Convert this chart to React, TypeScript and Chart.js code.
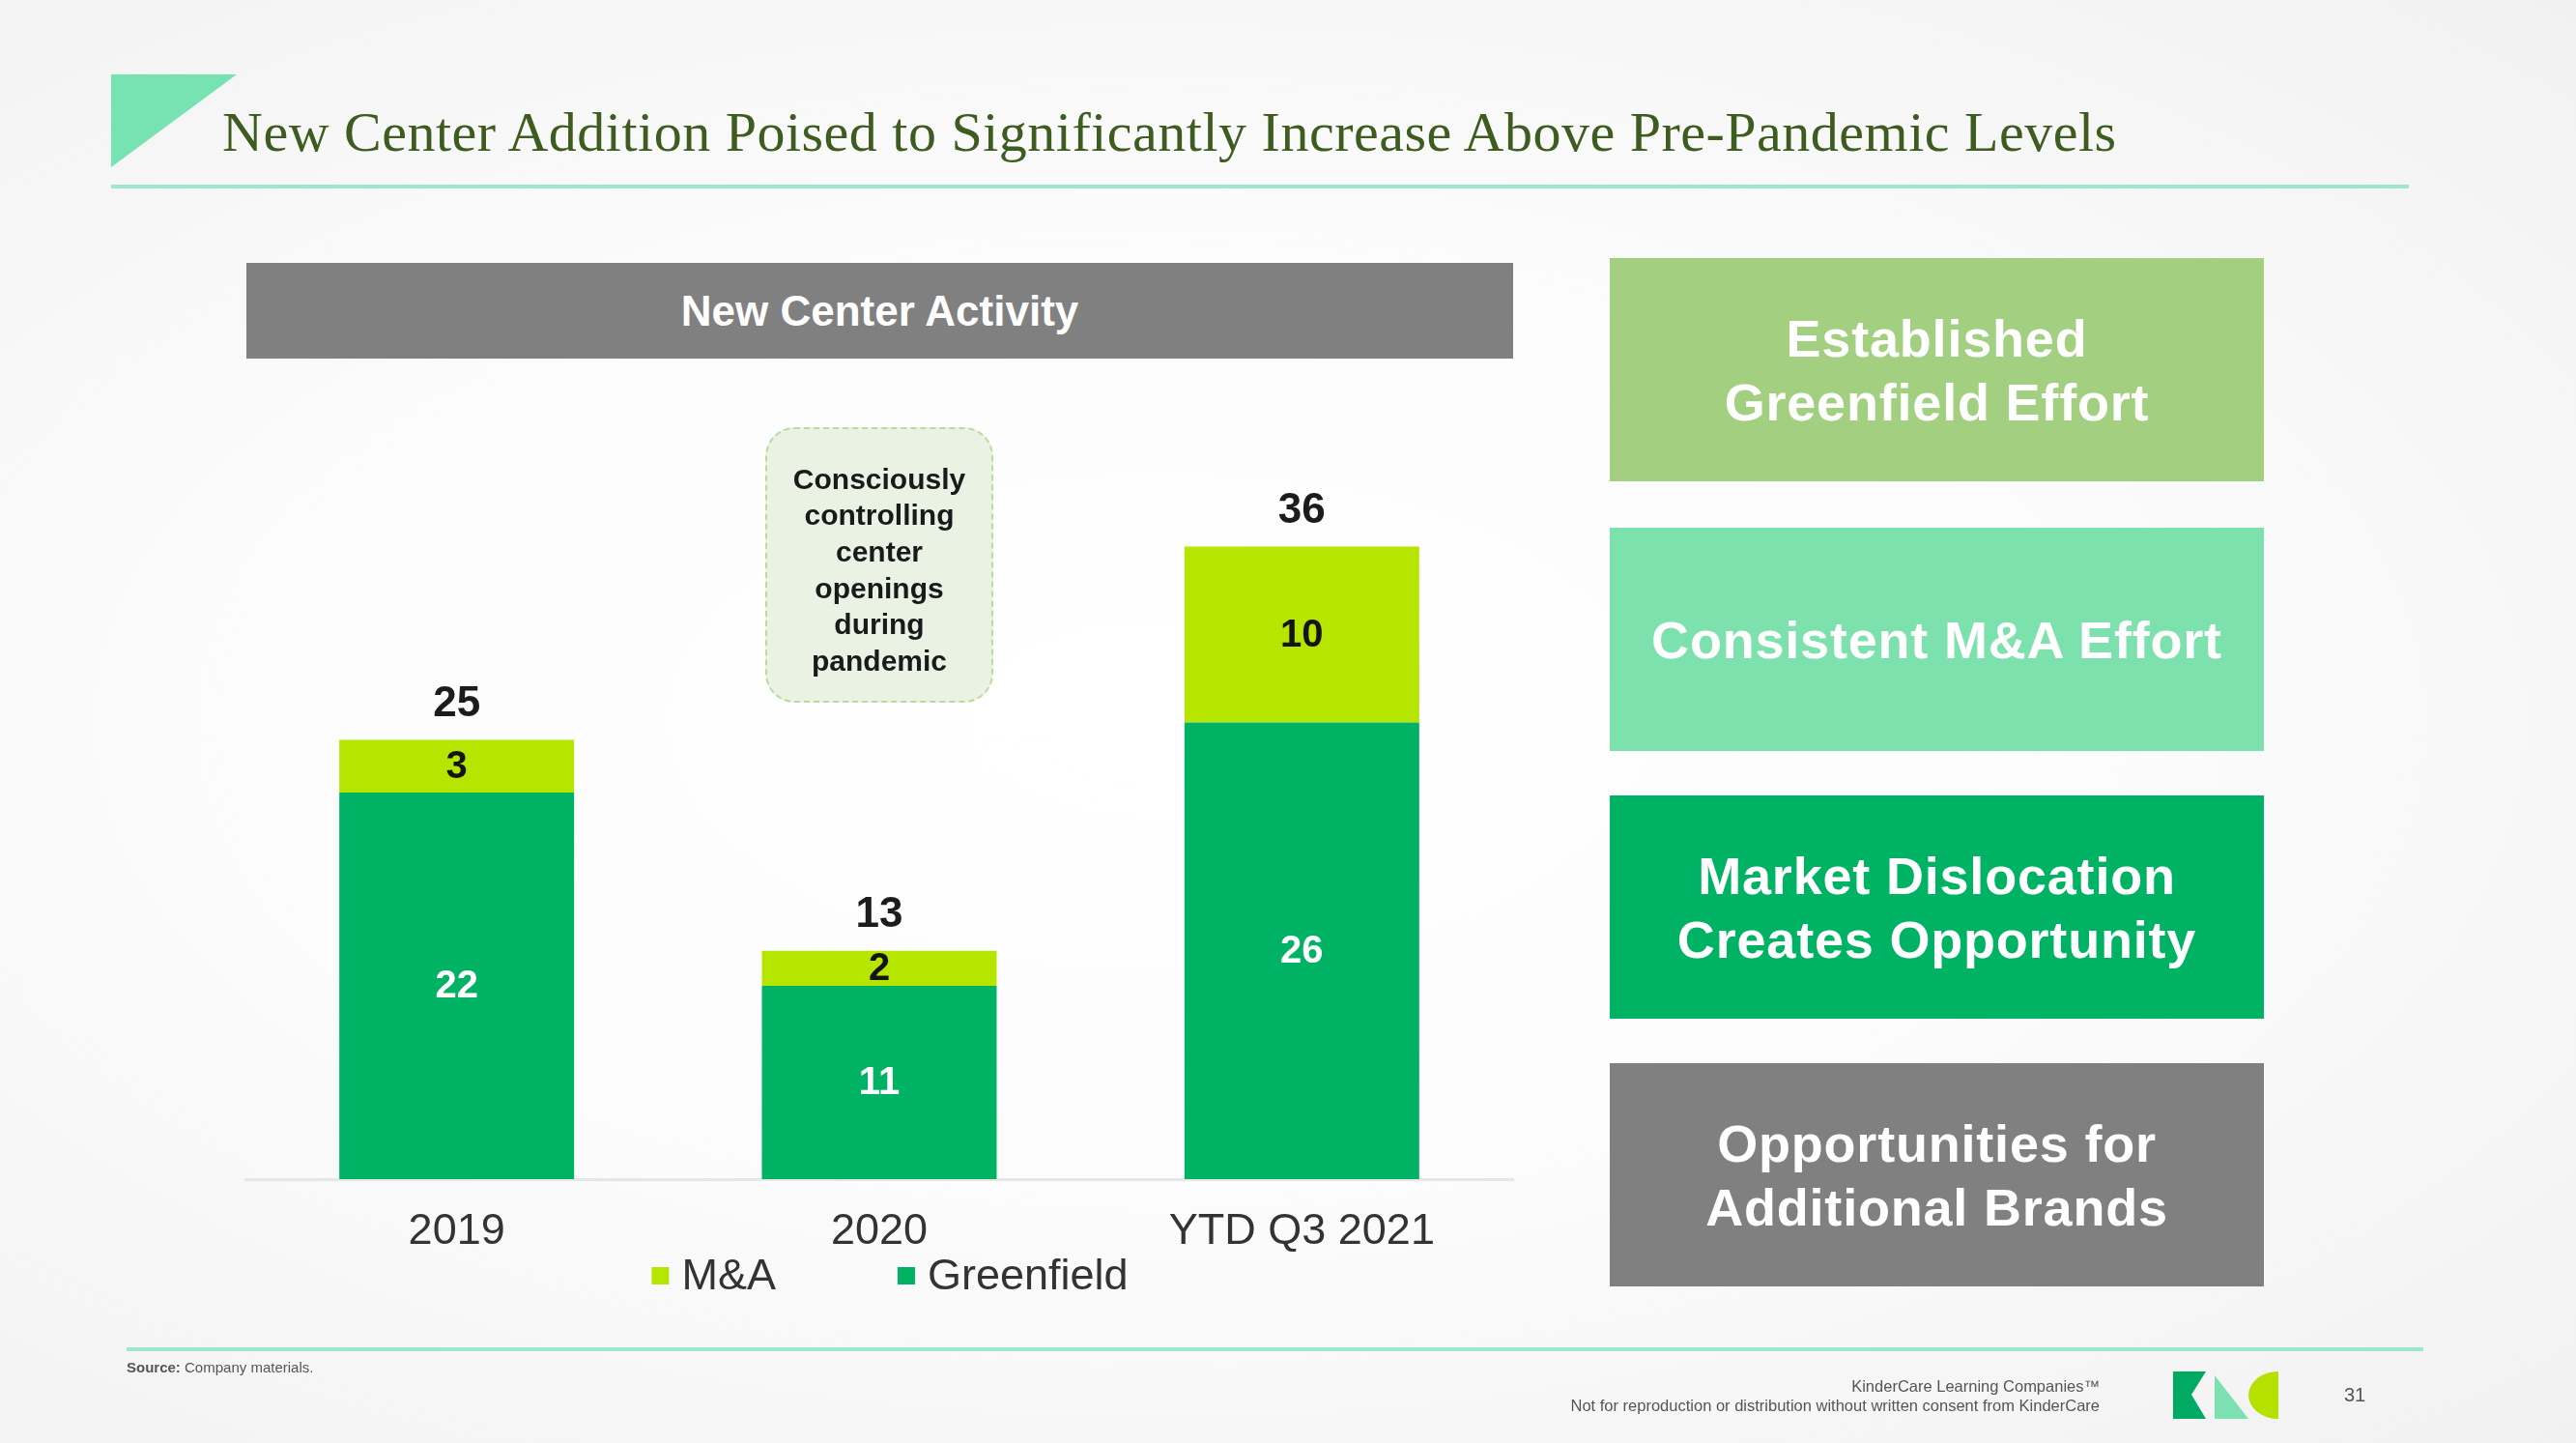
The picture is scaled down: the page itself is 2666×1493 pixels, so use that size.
import React, { useEffect, useRef } from 'react';
import { Chart, registerables } from 'chart.js';

Chart.register(...registerables);

// ---- data ----
const categories = ['2019', '2020', 'YTD Q3 2021'];
const greenfield = [22, 11, 26];
const mna = [3, 2, 10];
const legendOrder = ['M&A', 'Greenfield'];
const calloutLines = ['Consciously', 'controlling', 'center', 'openings', 'during', 'pandemic'];
const boxTexts = [
  ['Established', 'Greenfield Effort'],
  ['Consistent M&A Effort'],
  ['Market Dislocation', 'Creates Opportunity'],
  ['Opportunities for', 'Additional Brands'],
];

// ---- styles ----
const GREEN = '#00b264';
const LIME = '#b6e600';
const MINT = '#7de0b0';
const SANS = '"Liberation Sans", Arial, Helvetica, sans-serif';
const boxColors = ['#a2cf80', '#7de1ae', '#00b264', '#808080'];
const boxTops = [267, 546, 823, 1100];

const labelPlugin = {
  id: 'barLabels',
  afterDatasetsDraw(chart: any) {
    const ctx = chart.ctx;
    ctx.save();
    ctx.textAlign = 'center';
    ctx.textBaseline = 'middle';
    chart.data.datasets.forEach((ds: any, di: number) => {
      const meta = chart.getDatasetMeta(di);
      meta.data.forEach((bar: any, i: number) => {
        const p = bar.getProps(['x', 'y', 'base'], true);
        ctx.font = `bold 40px ${SANS}`;
        ctx.fillStyle = di === 0 ? '#ffffff' : '#141414';
        ctx.fillText(String(ds.data[i]), p.x, (p.y + p.base) / 2 + 1);
      });
    });
    const lastMeta = chart.getDatasetMeta(chart.data.datasets.length - 1);
    lastMeta.data.forEach((bar: any, i: number) => {
      const total = chart.data.datasets.reduce((s: number, ds: any) => s + ds.data[i], 0);
      const p = bar.getProps(['x', 'y'], true);
      ctx.font = `bold 44px ${SANS}`;
      ctx.fillStyle = '#1c1c1c';
      ctx.fillText(String(total), p.x, p.y - 37);
    });

    // legend (custom spacing)
    const area = chart.chartArea;
    const box = 18, gapText = 13, itemGap = 126;
    ctx.font = `45px ${SANS}`;
    const items = legendOrder.map((name) => {
      const ds = chart.data.datasets.find((d: any) => d.label === name);
      return { name, color: ds.backgroundColor, w: box + gapText + ctx.measureText(name).width };
    });
    const total = items.reduce((s, it) => s + it.w, 0) + itemGap * (items.length - 1);
    let x = (area.left + area.right) / 2 + 11 - total / 2;
    const yc = area.bottom + 102;
    items.forEach((it) => {
      ctx.fillStyle = it.color;
      ctx.fillRect(x, yc - box / 2 - 2, box, box);
      ctx.fillStyle = '#333333';
      ctx.textAlign = 'left';
      ctx.fillText(it.name, x + box + gapText, yc);
      x += it.w + itemGap;
    });
    ctx.restore();
  },
};

function BarChart() {
  const ref = useRef<HTMLCanvasElement>(null);
  useEffect(() => {
    const chart = new Chart(ref.current as HTMLCanvasElement, {
      type: 'bar',
      data: {
        labels: categories,
        datasets: [
          { label: 'Greenfield', data: greenfield, backgroundColor: GREEN, borderWidth: 0 },
          { label: 'M&A', data: mna, backgroundColor: LIME, borderWidth: 0 },
        ],
      },
      options: {
        responsive: false,
        animation: false,
        devicePixelRatio: 1,
        layout: { padding: { left: 54, right: 54, top: 22, bottom: 79 } },
        datasets: { bar: { categoryPercentage: 1, barPercentage: 0.5556 } },
        plugins: { legend: { display: false }, tooltip: { enabled: false } },
        scales: {
          x: {
            stacked: true,
            grid: { display: false, drawTicks: false },
            border: { display: true, color: '#e6e6e6', width: 3 },
            ticks: { color: '#333333', padding: 28, font: { family: SANS, size: 45 } },
          },
          y: { stacked: true, display: false, min: 0, max: 45 },
        },
      },
      plugins: [labelPlugin],
    } as any);
    return () => chart.destroy();
  }, []);
  return (
    <canvas
      ref={ref}
      width={1420}
      height={1029}
      style={{ position: 'absolute', left: 200, top: 380, width: 1420, height: 1029 }}
    />
  );
}

export default function App() {
  return (
    <div
      style={{
        position: 'fixed',
        left: 0,
        top: 0,
        width: 2666,
        height: 1493,
        overflow: 'hidden',
        background: 'radial-gradient(ellipse at 45% 50%, #ffffff 0%, #fcfcfc 45%, #f1f1f1 100%)',
        fontFamily: SANS,
      }}
    >
      {/* title triangle and rule */}
      <svg style={{ position: 'absolute', left: 0, top: 0 }} width={2666} height={200}>
        <polygon points="115,77 245,77 115,173" fill="#77e2b2" />
        <rect x={115} y={191} width={2378} height={4} fill="#9de8c8" />
      </svg>
      <div
        style={{
          position: 'absolute',
          left: 230,
          top: 108,
          fontFamily: '"Liberation Serif", "Times New Roman", serif',
          fontSize: 58,
          lineHeight: '58px',
          color: '#3e5c20',
          whiteSpace: 'nowrap',
          letterSpacing: 0.5,
        }}
      >
        New Center Addition Poised to Significantly Increase Above Pre-Pandemic Levels
      </div>

      {/* chart header */}
      <div
        style={{
          position: 'absolute',
          left: 255,
          top: 272,
          width: 1311,
          height: 99,
          background: '#808080',
          color: '#ffffff',
          fontWeight: 'bold',
          fontSize: 44,
          display: 'flex',
          alignItems: 'center',
          justifyContent: 'center',
        }}
      >
        New Center Activity
      </div>

      <BarChart />

      {/* callout */}
      <div
        style={{
          position: 'absolute',
          left: 792,
          top: 442,
          width: 236,
          height: 285,
          boxSizing: 'border-box',
          border: '2px dashed #b9dba0',
          borderRadius: 30,
          background: '#eaf3e3',
          display: 'flex',
          flexDirection: 'column',
          alignItems: 'center',
          justifyContent: 'center',
          paddingTop: 10,
          color: '#1a1a1a',
          fontWeight: 'bold',
          fontSize: 30,
          lineHeight: '37.6px',
          textAlign: 'center',
        }}
      >
        {calloutLines.map((l) => (
          <div key={l}>{l}</div>
        ))}
      </div>

      {/* right boxes */}
      {boxTexts.map((lines, i) => (
        <div
          key={i}
          style={{
            position: 'absolute',
            left: 1666,
            top: boxTops[i],
            width: 677,
            height: 231,
            background: boxColors[i],
            color: '#ffffff',
            fontWeight: 'bold',
            fontSize: 54,
            lineHeight: '66px',
            display: 'flex',
            flexDirection: 'column',
            alignItems: 'center',
            justifyContent: 'center',
            textAlign: 'center',
            letterSpacing: 0.8,
          }}
        >
          {lines.map((l) => (
            <div key={l}>{l}</div>
          ))}
        </div>
      ))}

      {/* footer */}
      <div style={{ position: 'absolute', left: 131, top: 1394, width: 2377, height: 4, background: '#9de8c8' }} />
      <div style={{ position: 'absolute', left: 131, top: 1406, fontSize: 15, color: '#555', whiteSpace: 'nowrap' }}>
        <b>Source:</b> Company materials.
      </div>
      <div
        style={{
          position: 'absolute',
          right: 2666 - 2173,
          top: 1424,
          fontSize: 16.5,
          lineHeight: '20px',
          color: '#555',
          textAlign: 'right',
          whiteSpace: 'nowrap',
        }}
      >
        <div>KinderCare Learning Companies™</div>
        <div>Not for reproduction or distribution without written consent from KinderCare</div>
      </div>
      <svg style={{ position: 'absolute', left: 2245, top: 1415 }} width={120} height={58}>
        <polygon points="4,4 38,4 23,28 38,53 4,53" fill="#00aa62" />
        <polygon points="47,8 47,53 82,53" fill={MINT} />
        <path d="M113,4 A31,24.5 0 0 0 113,53 Z" fill="#b6e000" />
      </svg>
      <div style={{ position: 'absolute', left: 2426, top: 1432, fontSize: 20, color: '#555' }}>31</div>
    </div>
  );
}
